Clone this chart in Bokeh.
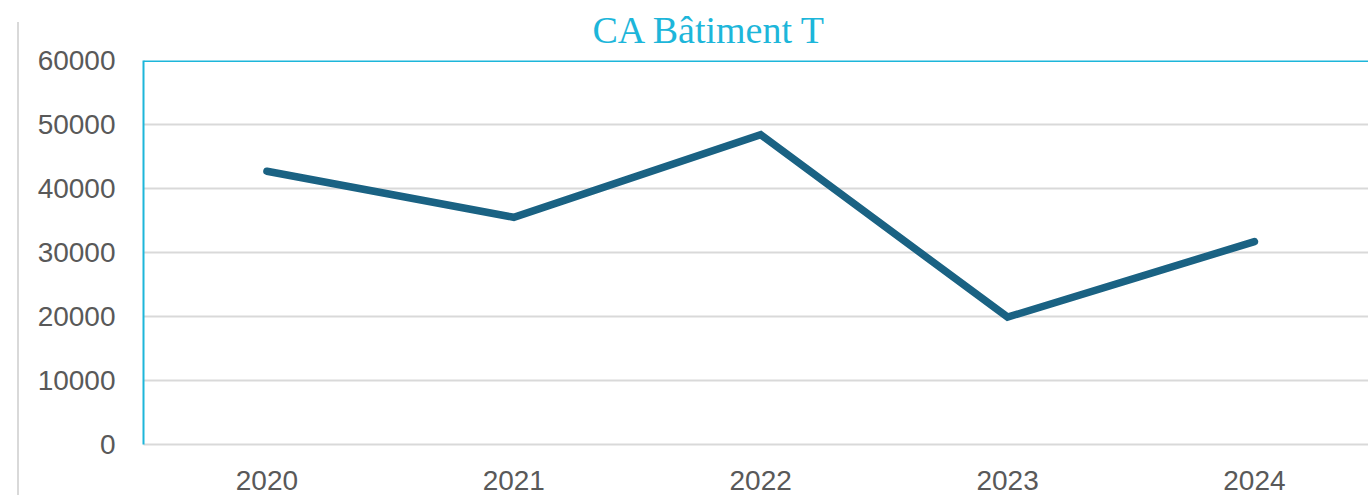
from bokeh.plotting import figure
from bokeh.models import Span, FixedTicker, Range1d, InlineStyleSheet
from bokeh.embed import file_html
from bokeh.resources import INLINE

years = ["2020", "2021", "2022", "2023", "2024"]
ca_values = [42700, 35500, 48400, 19900, 31700]
y_ticks = [0, 10000, 20000, 30000, 40000, 50000, 60000]

xs = list(range(len(years)))

p = figure(width=1368, height=495, output_backend="svg", toolbar_location=None,
           x_range=Range1d(-0.5, 4.462), y_range=Range1d(0, 60000),
           min_border_left=143, min_border_right=0, min_border_top=60, min_border_bottom=51)

p.title.text = "CA Bâtiment T"
p.title.align = "left"
p.title.offset = 449
p.title.text_font = "Liberation Serif"
p.title.text_font_size = "38px"
p.title.text_font_style = "normal"
p.title.text_color = "#1DB6DA"
p.title.vertical_align = "top"
p.title.standoff = 16

p.outline_line_color = None
p.background_fill_color = "white"
p.border_fill_color = "white"

p.line(xs, ca_values, line_color="#1A6283", line_width=7.5, line_cap="round", line_join="miter")

# axes
p.xaxis.ticker = FixedTicker(ticks=xs)
p.xaxis.major_label_overrides = {i: y for i, y in enumerate(years)}
p.xaxis.axis_line_color = "#D9D9D9"
p.xaxis.axis_line_width = 2
p.xaxis.major_tick_line_color = None
p.xaxis.minor_tick_line_color = None
p.xaxis.major_label_text_font = "Liberation Sans"
p.xaxis.major_label_text_font_size = "28px"
p.xaxis.major_label_text_color = "#595959"
p.xaxis.major_label_standoff = 20

p.yaxis.ticker = FixedTicker(ticks=y_ticks)
p.yaxis.axis_line_color = "#1DB6DA"
p.yaxis.axis_line_width = 2
p.yaxis.major_tick_line_color = None
p.yaxis.minor_tick_line_color = None
p.yaxis.major_label_text_font = "Liberation Sans"
p.yaxis.major_label_text_font_size = "28px"
p.yaxis.major_label_text_color = "#595959"
p.yaxis.major_label_standoff = 22

p.xgrid.grid_line_color = None
p.ygrid.grid_line_color = "#D9D9D9"
p.ygrid.grid_line_width = 2

p.add_layout(Span(location=60000, dimension="width", line_color="#1DB6DA", line_width=3))

# left border line of the chart area
p.stylesheets = [InlineStyleSheet(css=(
    ":host::after { content: ''; position: absolute; left: 17px; top: 22px; "
    "bottom: 0px; width: 2px; background: #D9D9D9; z-index: 10; }"
))]

open("out.html", "w").write(file_html(p, INLINE))
